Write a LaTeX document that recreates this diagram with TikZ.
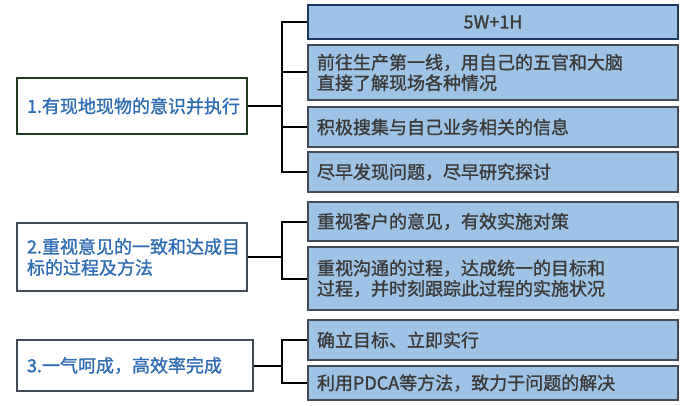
\documentclass[tikz,border=0pt]{standalone}
\usepackage{fontspec}
\setmainfont{Noto Sans CJK SC}[AutoFakeBold=1.3]
\definecolor{boxfill}{HTML}{9DC3E6}
\definecolor{boxline}{HTML}{424B55}
\definecolor{topline}{HTML}{1F3A5F}
\definecolor{leftgreen}{HTML}{1E3B20}
\definecolor{lefttext}{HTML}{2E6DB3}
\definecolor{darktext}{HTML}{3A3A3A}
\tikzset{
	rightbox/.style={draw=boxline,fill=boxfill,line width=2.4pt,minimum width=370pt,text width=352pt,align=left,inner sep=0pt,text=darktext,font=\fontsize{18}{20.5}\selectfont\bfseries},
	leftbox/.style={draw=boxline,fill=white,line width=2.2pt,inner sep=0pt,align=left,text=lefttext,font=\fontsize{18}{21}\selectfont\bfseries},
	link/.style={black,line width=2pt}
}
\begin{document}
\begin{tikzpicture}[x=1pt,y=-1pt]
		\useasboundingbox (0,0) rectangle (692,406);
		% right column
		\node[rightbox,draw=topline,minimum height=34pt,align=center] (r0) at (493,22) {5W+1H};
		\node[rightbox,minimum height=55pt] (r1) at (493,72.5) {前往生产第一线，用自己的五官和大脑\\直接了解现场各种情况};
		\node[rightbox,minimum height=40pt] (r2) at (493,127) {积极搜集与自己业务相关的信息};
		\node[rightbox,minimum height=40pt] (r3) at (493,172) {尽早发现问题，尽早研究探讨};
		\node[rightbox,minimum height=39pt] (r4) at (493,221.5) {重视客户的意见，有效实施对策};
		\node[rightbox,minimum height=63pt] (r5) at (493,278.5) {重视沟通的过程，达成统一的目标和\\过程，并时刻跟踪此过程的实施状况};
		\node[rightbox,minimum height=40pt] (r6) at (493,340) {确立目标、立即实行};
		\node[rightbox,minimum height=34pt] (r7) at (493,383) {利用PDCA等方法，致力于问题的解决};
		% left column
		\node[leftbox,draw=leftgreen,minimum width=230pt,minimum height=56pt,text width=210pt] (l1) at (132,106) {1.有现地现物的意识并执行};
		\node[leftbox,minimum width=230pt,minimum height=68pt,text width=210pt] (l2) at (132,257) {2.重视意见的一致和达成目\\标的过程及方法};
		\node[leftbox,minimum width=236pt,minimum height=51pt,text width=216pt] (l3) at (135,365.5) {3.一气呵成，高效率完成};
		% brackets
		\draw[link] (l1.east) -- (282,106) coordinate (j1);
		\draw[link] (r0.west) -| (j1) |- (r3.west);
		\draw[link] (r1.west) -- (r1.west -| j1);
		\draw[link] (r2.west) -- (r2.west -| j1);
		\draw[link] (l2.east) -- (282,257) coordinate (j2);
		\draw[link] (r4.west) -| (j2) |- (r5.west);
		\draw[link] (l3.east) -- (282,365.5) coordinate (j3);
		\draw[link] (r6.west) -| (j3) |- (r7.west);
	\end{tikzpicture}
\end{document}
